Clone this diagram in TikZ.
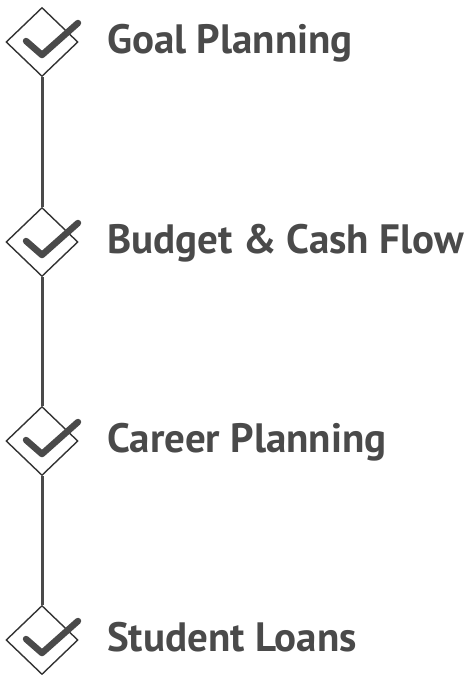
\documentclass[tikz,border=0pt]{standalone}
\usepackage{fontspec}
\setmainfont{PT Sans}
\usetikzlibrary{shapes.geometric,calc}
\definecolor{ink}{HTML}{4A4A4A}
\definecolor{edge}{HTML}{333333}
\tikzset{
  x=1pt, y=1pt,
  milestone/.style={shape=diamond, draw=edge, line width=1.4pt, minimum width=72pt, minimum height=69pt, inner sep=0pt},
  spine/.style={draw=ink, line width=3pt},
  tick/.style={draw=ink, line width=6.5pt, line cap=round, line join=round},
  label/.style={anchor=base west, inner sep=0pt, text=ink, font=\fontsize{41}{41}\selectfont\bfseries}
}
\begin{document}
\begin{tikzpicture}
\useasboundingbox (0,0) rectangle (472,-675);
\foreach \i/\y/\t in {1/42/Goal Planning, 2/242/Budget \& Cash Flow, 3/441/Career Planning, 4/640/Student Loans}{
  \node[milestone] (d\i) at (42,-\y) {};
  \draw[tick] ($(d\i.center)+(-16,1)$) -- ($(d\i.center)+(0,-13)$) -- ($(d\i.center)+(36,19)$);
  \node[label] (t\i) at (107,-\y-11) {\t};
}
\draw[spine] (d1.south) -- (d2.north);
\draw[spine] (d2.south) -- (d3.north);
\draw[spine] (d3.south) -- (d4.north);
\end{tikzpicture}
\end{document}
